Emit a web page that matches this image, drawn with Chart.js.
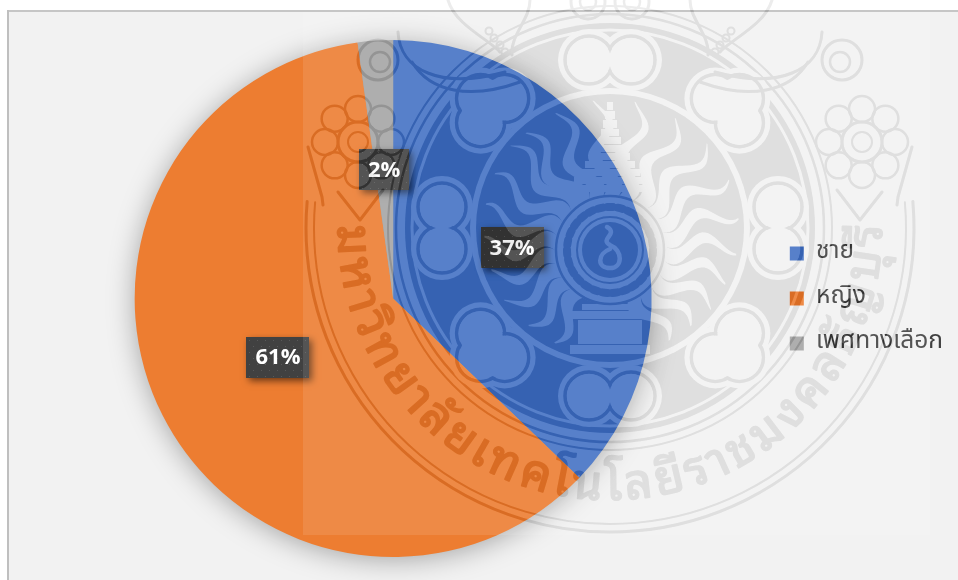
<!DOCTYPE html>
<html><head><meta charset="utf-8">
<script src="https://cdn.jsdelivr.net/npm/chart.js@4"></script>
<style>html,body{margin:0;padding:0;background:#fff}canvas{display:block}</style>
</head><body>
<canvas id="c" width="958" height="580"></canvas>
<script>
const categories = ['ชาย', 'หญิง', 'เพศทางเลือก'];
const shareValues = [37.2, 60.6, 2.2];
const sliceColors = ['#4472c4', '#ed7d31', '#a5a5a5'];
const sealClusters = ['ม','ห','า','วิ','ท','ย','า','ลั','ย','เ','ท','ค','โ','น','โ','ล','ยี','ร','า','ช','ม','ง','ค','ล','ธั','ญ','บุ','รี'];
const THAI = '"Noto Sans Thai","Noto Sans","DejaVu Sans",sans-serif';
const THAI_LOOPED = '"Noto Sans Thai Looped","Noto Serif Thai","Loma","Garuda","Norasi",' + THAI;

function buildSeal() {
  const off = document.createElement('canvas');
  off.width = 958; off.height = 580;
  const o = off.getContext('2d');
  const cx = 610, cy = 228, wy = 250, paint = '#d9d9d9';
  o.strokeStyle = paint; o.fillStyle = paint; o.lineCap = 'round'; o.lineJoin = 'round';
  const erase = f => { o.save(); o.globalCompositeOperation = 'destination-out'; o.strokeStyle = o.fillStyle = '#000'; f(); o.restore(); };
  const disc = (x, y, r) => { o.beginPath(); o.arc(x, y, r, 0, 7); o.fill(); };
  const ring = (x, y, r, w) => { o.lineWidth = w; o.beginPath(); o.arc(x, y, r, 0, 7); o.stroke(); };
  const rad = d => d * Math.PI / 180;

  // outer double ring, open at the top
  o.lineWidth = 3; o.beginPath(); o.arc(cx, cy, 304, rad(-5), rad(185)); o.stroke();
  o.lineWidth = 2; o.beginPath(); o.arc(cx, cy, 296, rad(-5), rad(185)); o.stroke();

  // lettering along the lower arc
  o.font = '48px ' + THAI_LOOPED;
  o.textBaseline = 'alphabetic'; o.textAlign = 'left'; o.lineWidth = 1.8;
  const widths = sealClusters.map(s => o.measureText(s).width);
  const total = widths.reduce((a, b) => a + b, 0);
  const R = 272, startA = rad(181), endA = rad(-1);
  const k = ((startA - endA) * R) / total;
  let run = 0;
  sealClusters.forEach((s, i) => {
    const mid = run + widths[i] / 2;
    const th = startA - (mid * k) / R;
    o.save();
    o.translate(cx + R * Math.cos(th), cy + R * Math.sin(th));
    o.rotate(th - Math.PI / 2);
    o.fillText(s, -widths[i] / 2, 0);
    o.strokeText(s, -widths[i] / 2, 0);
    o.restore();
    run += widths[i];
  });

  // middle band: small dark spandrels around pale lobes
  o.beginPath(); o.arc(cx, cy, 205, 0, 7); o.fill();
  ring(cx, cy, 214, 2.5);
  ring(cx, cy, 222, 2);
  erase(() => { ring(cx, cy, 198, 3); });
  const clusters = [];
  for (let a = 0; a < 360; a += 90) {
    const ux = Math.cos(rad(a)), uy = Math.sin(rad(a));
    const bx = cx + 168 * ux, by = cy + 168 * uy;
    clusters.push([[bx - 21 * uy, by + 21 * ux], [bx + 21 * uy, by - 21 * ux]]);
    const dx = cx + 166 * Math.cos(rad(a + 45)), dy = cy + 166 * Math.sin(rad(a + 45));
    clusters.push([0, 90, -90].map(t => {
      const an = rad(a + 45 + t);
      return [dx + 17 * Math.cos(an), dy + 17 * Math.sin(an)];
    }));
  }
  clusters.forEach(pts => {
    erase(() => pts.forEach(p => disc(p[0], p[1], 31)));
    pts.forEach(p => ring(p[0], p[1], 24, 3.5));
    erase(() => pts.forEach(p => disc(p[0], p[1], 22)));
  });
  // inner disc with wavy rays
  erase(() => disc(cx, cy, 140));
  disc(cx, cy, 134);
  const rayAngles = [-125,-110,-94,-78,-62,-47,-32,-17,-2,13,28,43,58,122,137,152,167,182,197,212,227];
  erase(() => rayAngles.forEach(d => {
    const an = rad(d), ux = Math.cos(an), uy = Math.sin(an), nx = -uy, ny = ux;
    const h = wy - cy, b = h * uy;
    const len = -b + Math.sqrt(b * b - (h * h - 129 * 129));
    const left = [], right = [];
    for (let s = 48; s <= len; s += 3) {
      const t = (s - 48) / (len - 48);
      const off2 = 9 * Math.sin((s - 48) * 0.1);
      const w = 7.5 * (1 - t * t) + 0.5;
      left.push([cx + ux * s + nx * (off2 + w), wy + uy * s + ny * (off2 + w)]);
      right.push([cx + ux * s + nx * (off2 - w), wy + uy * s + ny * (off2 - w)]);
    }
    o.beginPath();
    left.concat(right.reverse()).forEach((p, i) => i ? o.lineTo(p[0], p[1]) : o.moveTo(p[0], p[1]));
    o.closePath(); o.fill();
  }));
  // stupa above and base below the wheel
  const tiers = [[102,3,8],[111,5,8],[120,7,8],[129,9,7],[137,11,7],[145,15,7],[153,20,7],[161,25,7],[169,30,7],[177,36,7],[185,40,7],[304,28,6],[311,38,8],[320,32,24],[345,40,9]];
  erase(() => tiers.forEach(t => o.fillRect(cx - t[1], t[0], t[1] * 2, t[2])));
  // wheel
  erase(() => disc(cx, wy, 55));
  ring(cx, wy, 54, 2.5);
  o.save(); o.setLineDash([5, 5]); ring(cx, wy, 43, 8); o.restore();
  ring(cx, wy, 33, 2);
  disc(cx, wy, 28);
  erase(() => {
    o.lineWidth = 4.5; o.beginPath();
    o.moveTo(cx - 3, wy - 23); o.bezierCurveTo(cx + 9, wy - 16, cx - 11, wy - 11, cx, wy - 5);
    o.bezierCurveTo(cx + 13, wy, cx + 13, wy + 18, cx, wy + 18);
    o.bezierCurveTo(cx - 13, wy + 18, cx - 13, wy + 4, cx, wy - 1); o.stroke();
  });

  // mirrored ornaments
  [1, -1].forEach(side => {
    o.save();
    o.translate(cx, 0); o.scale(side, 1); o.translate(-cx, 0);
    const fx = 358, fy = 142;
    ring(fx, fy, 20, 3); ring(fx, fy, 10, 2);
    for (let a = 0; a < 360; a += 45) ring(fx + 33 * Math.cos(rad(a)), fy + 33 * Math.sin(rad(a)), 13, 2.5);
    o.lineWidth = 3;
    o.beginPath(); o.moveTo(fx - 50, fy + 5); o.lineTo(fx - 36, fy + 55); o.lineTo(fx - 35, 205); o.stroke();
    o.beginPath(); o.moveTo(fx - 20, fy + 50); o.lineTo(fx + 2, fy + 78); o.lineTo(fx + 25, fy + 48); o.stroke();
    ring(378, 60, 20, 3); ring(380, 62, 10, 2.5);
    o.lineWidth = 3;
    o.beginPath(); o.moveTo(398, 32); o.bezierCurveTo(400, 70, 440, 90, 505, 72); o.stroke();
    o.beginPath(); o.moveTo(412, 62); o.bezierCurveTo(430, 92, 470, 100, 520, 82); o.stroke();
    o.beginPath(); o.moveTo(448, 0); o.bezierCurveTo(455, 25, 490, 40, 500, 52); o.stroke();
    o.beginPath(); o.moveTo(530, 0); o.bezierCurveTo(530, 20, 510, 35, 512, 55); o.stroke();
    [[489,31],[494,38],[500,45],[505,52]].forEach(p => ring(p[0], p[1], 3.5, 2));
    ring(588, 2, 17, 3); ring(588, 2, 8, 2.5);
    o.restore();
  });
  return off;
}

const backdrop = {
  id: 'backdrop',
  beforeDraw(chart) {
    const x = chart.ctx;
    x.save();
    x.fillStyle = '#ffffff'; x.fillRect(0, 0, 958, 580);
    x.fillStyle = '#f2f2f2'; x.fillRect(9, 12, 949, 568);
    x.fillStyle = '#c6c6c6'; x.fillRect(7, 10, 951, 2);
    x.fillStyle = '#bfbfbf'; x.fillRect(7, 10, 2, 570);
    x.restore();
  },
  beforeDatasetsDraw(chart) {
    const a = chart.getDatasetMeta(0).data[0], x = chart.ctx;
    x.save();
    x.shadowColor = 'rgba(0,0,0,0.34)'; x.shadowBlur = 28; x.shadowOffsetY = 3;
    x.fillStyle = '#999';
    x.beginPath(); x.arc(a.x, a.y, a.outerRadius - 1, 0, Math.PI * 2); x.fill();
    x.restore();
  }
};

const sliceLabels = {
  id: 'sliceLabels',
  afterDatasetsDraw(chart) {
    const x = chart.ctx, total = shareValues.reduce((a, b) => a + b, 0);
    chart.getDatasetMeta(0).data.forEach((arc, i) => {
      const p = arc.getCenterPoint();
      const txt = Math.round(shareValues[i] / total * 100) + '%';
      x.save();
      x.font = '700 22px "Open Sans",sans-serif';
      const w = Math.round(x.measureText(txt).width) + 18, h = 41;
      const l = Math.round(p.x - w / 2), t = Math.round(p.y - h / 2);
      x.save();
      x.shadowColor = 'rgba(0,0,0,0.55)'; x.shadowBlur = 7; x.shadowOffsetX = 3; x.shadowOffsetY = 3;
      x.fillStyle = '#414141'; x.fillRect(l, t, w, h);
      x.restore();
      x.fillStyle = 'rgba(255,255,255,0.13)';
      for (let yy = t + 3; yy < t + h; yy += 6)
        for (let xx = l + 3 + ((yy - t - 3) % 12 ? 4 : 0); xx < l + w; xx += 8) x.fillRect(xx, yy, 1, 1);
      x.fillStyle = '#ffffff'; x.textAlign = 'center'; x.textBaseline = 'middle';
      x.fillText(txt, p.x, p.y + 1);
      x.restore();
    });
  }
};

let sealLayer = null;
const sealOverlay = {
  id: 'sealOverlay',
  afterDraw(chart) {
    if (!sealLayer) sealLayer = buildSeal();
    const x = chart.ctx;
    x.save();
    x.beginPath(); x.rect(303, 0, 627, 535); x.clip();
    x.fillStyle = 'rgba(255,255,255,0.1)'; x.fillRect(303, 12, 627, 523);
    x.globalCompositeOperation = 'color-burn'; x.drawImage(sealLayer, 0, 0);
    x.globalCompositeOperation = 'multiply'; x.globalAlpha = 0.5; x.drawImage(sealLayer, 0, 0);
    x.restore();
  }
};

new Chart(document.getElementById('c'), {
  type: 'pie',
  data: { labels: categories, datasets: [{ data: shareValues, backgroundColor: sliceColors, borderWidth: 0, hoverOffset: 0 }] },
  options: {
    responsive: false, animation: false,
    layout: { padding: { left: 17, right: 5, top: 40, bottom: 23 } },
    plugins: {
      tooltip: { enabled: false },
      legend: {
        position: 'right', align: 'center',
        labels: { boxWidth: 14, boxHeight: 14, padding: 20.5, color: '#404040', font: { size: 24.5, family: THAI } }
      }
    }
  },
  plugins: [backdrop, sliceLabels, sealOverlay]
});
</script>
</body></html>
